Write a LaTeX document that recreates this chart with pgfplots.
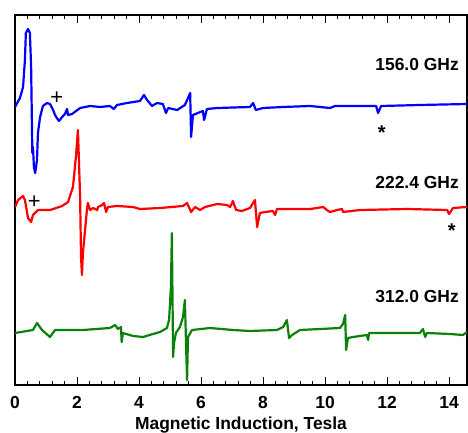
\documentclass[border=0pt]{standalone}
\usepackage{fontspec}
\setmainfont{Liberation Sans}
\usepackage{pgfplots}
\pgfplotsset{compat=1.18}
\definecolor{cblue}{RGB}{0,0,255}
\definecolor{cred}{RGB}{255,0,0}
\definecolor{cgreen}{RGB}{10,130,10}
\begin{document}
\begin{tikzpicture}
\begin{axis}[
  scale only axis, width=452bp, height=370bp,
  xmin=0, xmax=14.58, ymin=15, ymax=385,
  xtick={0,2,...,14}, minor x tick num=4,
  ytick=\empty,
  tick align=inside, xtick pos=both, xticklabel pos=lower,
  major tick length=8bp, minor tick length=4bp,
  axis line style={line width=1.3pt},
  every tick/.style={black, line width=1pt},
  /pgf/number format/assume math mode=true,
  xticklabel style={font=\fontsize{17.5}{20}\selectfont\bfseries, anchor=base, yshift=-23bp},
  xlabel={Magnetic Induction, Tesla},
  xlabel style={font=\fontsize{17.5}{20}\selectfont\bfseries, at={(axis description cs:0.5,0)}, anchor=base, yshift=-44bp},
  every axis plot/.append style={line width=2.2bp, line join=round, mark=none},
  clip=true,
]
% 156.0 GHz
\addplot[cblue] coordinates {
(0.00,293)(0.16,302)(0.26,313)(0.32,340)(0.35,367)(0.42,371)(0.48,367)(0.52,333)(0.55,267)(0.56,247)(0.58,253)(0.61,233)(0.65,227)(0.71,240)(0.74,267)(0.81,283)(0.90,294)(1.03,297)(1.13,296)(1.23,290)(1.29,285)(1.35,282)(1.42,279)(1.52,283)(1.61,286)(1.68,291)(1.71,285)(1.84,286)(2.10,292)(2.42,294)(2.74,293)(3.06,294)(3.19,291)(3.29,295)(3.61,297)(4.03,299)(4.16,305)(4.26,300)(4.42,294)(4.58,297)(4.77,296)(4.87,287)(4.94,292)(5.23,290)(5.48,295)(5.58,302)(5.65,307)(5.68,263)(5.74,285)(6.06,289)(6.10,280)(6.19,291)(6.52,292)(7.58,293)(7.68,297)(7.77,290)(8.00,292)(8.65,293)(9.52,294)(10.16,292)(10.32,294)(11.65,294)(11.71,287)(11.81,294)(13.06,295)(14.58,296)
};
% 222.4 GHz
\addplot[cred] coordinates {
(0.00,193)(0.10,200)(0.26,204)(0.32,200)(0.42,182)(0.52,178)(0.58,185)(0.74,190)(1.13,190)(1.52,194)(1.71,198)(1.87,213)(1.97,245)(2.03,270)(2.10,203)(2.13,143)(2.16,125)(2.19,147)(2.26,170)(2.32,190)(2.35,197)(2.42,190)(2.52,192)(2.65,190)(2.68,193)(2.81,195)(2.87,197)(2.94,188)(3.00,193)(3.29,194)(3.81,193)(4.03,191)(4.68,192)(5.42,194)(5.55,197)(5.68,188)(5.81,193)(5.97,190)(6.13,193)(6.52,196)(6.84,195)(6.94,193)(7.03,199)(7.13,190)(7.32,189)(7.58,192)(7.74,200)(7.81,173)(7.90,187)(8.06,188)(8.32,189)(8.39,185)(8.45,191)(9.52,191)(9.94,193)(10.06,190)(10.16,188)(10.39,190)(10.55,191)(10.58,188)(11.13,190)(12.65,191)(13.94,190)(14.00,186)(14.13,192)(14.58,193)
};
% 312.0 GHz
\addplot[cgreen] coordinates {
(0.00,67)(0.58,70)(0.71,77)(0.87,70)(1.13,63)(1.29,70)(2.19,70)(3.06,72)(3.23,75)(3.32,71)(3.42,73)(3.44,58)(3.48,67)(3.81,64)(4.13,63)(4.45,66)(4.68,68)(4.90,72)(4.97,80)(5.03,113)(5.06,167)(5.10,43)(5.13,57)(5.19,67)(5.32,73)(5.42,83)(5.48,100)(5.52,53)(5.55,20)(5.58,63)(5.71,70)(6.29,72)(7.03,70)(7.58,69)(8.45,70)(8.65,73)(8.77,80)(8.84,62)(8.94,65)(9.19,70)(9.84,71)(10.48,72)(10.58,76)(10.65,85)(10.68,50)(10.74,62)(10.90,63)(11.35,65)(11.39,60)(11.42,67)(12.42,67)(13.06,67)(13.16,71)(13.23,63)(13.29,67)(14.03,66)(14.45,65)(14.58,68)
};
\node[anchor=east, inner sep=0pt, font=\fontsize{17.5}{20}\selectfont\bfseries] at (axis cs:14.32,336) {156.0 GHz};
\node[anchor=east, inner sep=0pt, font=\fontsize{17.5}{20}\selectfont\bfseries] at (axis cs:14.32,218) {222.4 GHz};
\node[anchor=east, inner sep=0pt, font=\fontsize{17.5}{20}\selectfont\bfseries] at (axis cs:14.32,103) {312.0 GHz};
\node[anchor=base, inner sep=0pt, font=\fontsize{22}{24}\selectfont] at (axis cs:1.35,295.3) {+};
\node[anchor=base, inner sep=0pt, font=\fontsize{22}{24}\selectfont] at (axis cs:0.62,191.6) {+};
\node[anchor=base, inner sep=0pt, font=\fontsize{20}{22}\selectfont\bfseries] at (axis cs:11.83,260.5) {*};
\node[anchor=base, inner sep=0pt, font=\fontsize{20}{22}\selectfont\bfseries] at (axis cs:14.09,162.1) {*};
\coordinate (ll) at (rel axis cs:0,0);
\coordinate (ur) at (rel axis cs:1,1);
\end{axis}
\pgfresetboundingbox
\path ([shift={(-15bp,-48bp)}]ll) rectangle ([shift={(1bp,15bp)}]ur);
\end{tikzpicture}
\end{document}
